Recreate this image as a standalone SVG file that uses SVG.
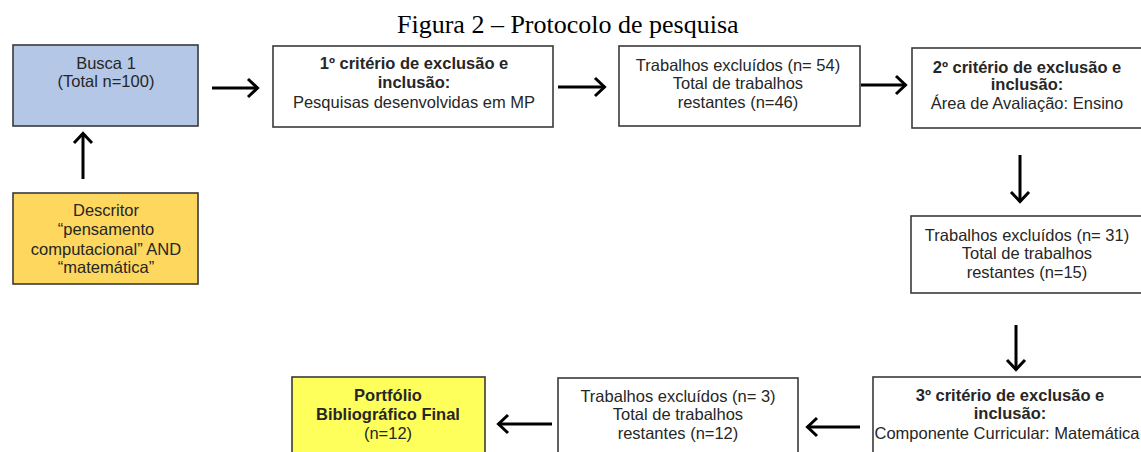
<svg xmlns="http://www.w3.org/2000/svg" width="1141" height="452" viewBox="0 0 1141 452">
<style>
.box{stroke:#3a3a3a;stroke-width:1.6}
.t{font-family:"Liberation Sans",Arial,sans-serif;font-size:16.5px;fill:#262626;text-anchor:middle;dominant-baseline:central}
.b{font-weight:bold}
.ttl{font-family:"Liberation Serif","Times New Roman",serif;font-size:26px;fill:#000}
.arr{stroke:#000;stroke-width:3;fill:none}
</style>
<defs>
<marker id="ah" markerUnits="userSpaceOnUse" markerWidth="16" markerHeight="22" viewBox="0 0 16 22" refX="13" refY="11" orient="auto">
<path d="M3,2 L12.5,11 L3,20" fill="none" stroke="#000" stroke-width="3"/>
</marker>
</defs>
<rect width="1141" height="452" fill="#fff"/>
<text class="ttl" x="397" y="33">Figura 2 – Protocolo de pesquisa</text>

<g id="busca1">
<rect class="box" x="13" y="45" width="185" height="81" fill="#b4c7e7"/>
<text class="t" x="106" y="63">Busca 1</text>
<text class="t" x="106" y="81">(Total n=100)</text>
</g>
<g id="descritor">
<rect class="box" x="13" y="193" width="185" height="91" fill="#fdd75e"/>
<text class="t" x="106" y="210">Descritor</text>
<text class="t" x="106" y="229">“pensamento</text>
<text class="t" x="106" y="249">computacional” AND</text>
<text class="t" x="106" y="267">“matemática”</text>
</g>
<g id="criterio1">
<rect class="box" x="273" y="46" width="280" height="81" fill="#fff"/>
<text class="t b" x="414" y="63">1º critério de exclusão e</text>
<text class="t b" x="414" y="82">inclusão:</text>
<text class="t" x="414" y="102">Pesquisas desenvolvidas em MP</text>
</g>
<g id="excluidos54">
<rect class="box" x="619" y="46" width="241" height="80" fill="#fff"/>
<text class="t" x="738" y="65">Trabalhos excluídos (n= 54)</text>
<text class="t" x="738" y="83">Total de trabalhos</text>
<text class="t" x="738" y="102">restantes (n=46)</text>
</g>
<g id="criterio2">
<rect class="box" x="912" y="48" width="240" height="80" fill="#fff"/>
<text class="t b" x="1027" y="67">2º critério de exclusão e</text>
<text class="t b" x="1027" y="84">inclusão:</text>
<text class="t" x="1027" y="103">Área de Avaliação: Ensino</text>
</g>
<g id="excluidos31">
<rect class="box" x="911" y="216" width="240" height="77" fill="#fff"/>
<text class="t" x="1027" y="235">Trabalhos excluídos (n= 31)</text>
<text class="t" x="1027" y="253">Total de trabalhos</text>
<text class="t" x="1027" y="272">restantes (n=15)</text>
</g>
<g id="criterio3">
<rect class="box" x="873" y="377" width="290" height="100" fill="#fff"/>
<text class="t b" x="1010" y="395">3º critério de exclusão e</text>
<text class="t b" x="1010" y="413">inclusão:</text>
<text class="t" x="1007" y="433">Componente Curricular: Matemática</text>
</g>
<g id="excluidos3">
<rect class="box" x="558" y="378" width="240" height="100" fill="#fff"/>
<text class="t" x="678" y="396">Trabalhos excluídos (n= 3)</text>
<text class="t" x="678" y="414">Total de trabalhos</text>
<text class="t" x="678" y="433">restantes (n=12)</text>
</g>
<g id="portfolio">
<rect class="box" x="292" y="377" width="193" height="100" fill="#ffff5c"/>
<text class="t b" x="388" y="395">Portfólio</text>
<text class="t b" x="388" y="414">Bibliográfico Final</text>
<text class="t" x="388" y="433">(n=12)</text>
</g>

<g id="connectors">
<line class="arr" x1="83" y1="179" x2="83" y2="133" marker-end="url(#ah)"/>
<line class="arr" x1="212" y1="88" x2="258" y2="88" marker-end="url(#ah)"/>
<line class="arr" x1="558" y1="87" x2="605" y2="87" marker-end="url(#ah)"/>
<line class="arr" x1="861" y1="85" x2="906" y2="85" marker-end="url(#ah)"/>
<line class="arr" x1="1020" y1="155" x2="1020" y2="202" marker-end="url(#ah)"/>
<line class="arr" x1="1016" y1="325" x2="1016" y2="370" marker-end="url(#ah)"/>
<line class="arr" x1="860" y1="427" x2="807" y2="427" marker-end="url(#ah)"/>
<line class="arr" x1="552" y1="424" x2="498" y2="424" marker-end="url(#ah)"/>
</g>
</svg>
